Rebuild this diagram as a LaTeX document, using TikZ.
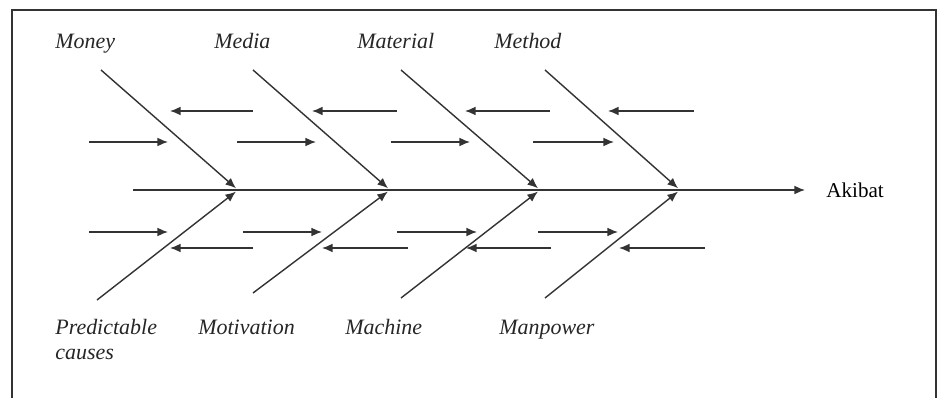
\documentclass[tikz,border=0pt]{standalone}
\usepackage{fontspec}
\setmainfont{Liberation Serif}
\usetikzlibrary{positioning,arrows.meta}
\tikzstyle{cause}=[font=\fontsize{12.5}{13.6}\selectfont\itshape, inner sep=0pt, anchor=base west, align=left, text=black!85]
\tikzstyle{bone}=[-{Latex[length=6pt,width=5pt]}, line width=.8pt, draw=black!80]
\tikzstyle{sub}=[-{Latex[length=6pt,width=5pt]}, line width=.8pt, draw=black!80]

\begin{document}
\begin{tikzpicture}[x=0.02cm, y=-0.02cm]
	\useasboundingbox (0,0) rectangle (939,398);
	\draw[line width=.9pt, black!80] (12,398) -- (12,10) -- (936,10) -- (936,398);
	% spine
	\coordinate (tail) at (133,190);
	\node[font=\fontsize{12}{14}\selectfont, inner sep=0pt, inner xsep=12pt, anchor=west] (akibat) at (805,190) {Akibat};
	\draw[bone] (tail) -- (akibat.west);
	% joints on the spine
	\coordinate (j1) at (238,190);
	\coordinate (j2) at (390,190);
	\coordinate (j3) at (540,190);
	\coordinate (j4) at (680,190);
	% main bones
	\coordinate (t1) at (101,70);  \coordinate (b1) at (97,300);
	\coordinate (t2) at (253,70);  \coordinate (b2) at (253,293);
	\coordinate (t3) at (401,70);  \coordinate (b3) at (401,298);
	\coordinate (t4) at (545,70);  \coordinate (b4) at (545,298);
	\foreach \i in {1,...,4} {
		\draw[bone, shorten >=1.5pt] (t\i) -- (j\i);
		\draw[bone, shorten >=1.5pt] (b\i) -- (j\i);
	}
	% labels
	\node[cause] (money) at (55,49) {Money};
	\node[cause] (media) at (214,49) {Media};
	\node[cause] (material) at (357,49) {Material};
	\node[cause] (method) at (494,49) {Method};
	\node[cause] (predict) at (55,335) {Predictable};
	\node[cause] (causes) at (55,359) {causes};
	\node[cause] (motivation) at (198,335) {Motivation};
	\node[cause] (machine) at (345,335) {Machine};
	\node[cause] (manpower) at (499,335) {Manpower};
	% small cause arrows: from x, to x, y
	\foreach \s/\e/\y [count=\n] in {253/170/111, 397/312/111, 550/465/111, 694/608/111,
			89/168/142, 237/316/142, 391/470/142, 533/614/142,
			89/168/232, 243/322/232, 397/477/232, 538/618/232,
			253/170/248, 408/322/248, 551/466/248, 705/619/248} {
		\coordinate (s\n) at (\s,\y);
		\coordinate (e\n) at (\e,\y);
		\draw[sub] (s\n) -- (e\n);
	}
\end{tikzpicture}
\end{document}
